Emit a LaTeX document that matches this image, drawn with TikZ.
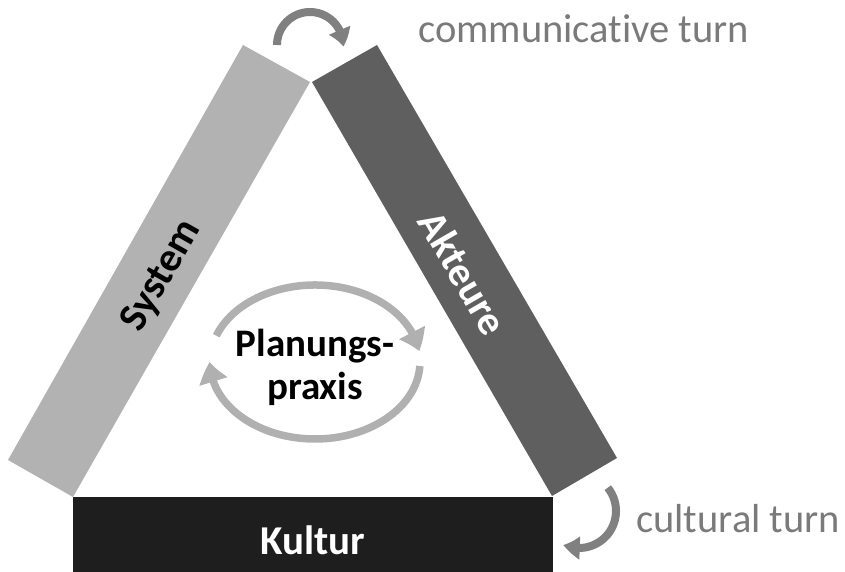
\documentclass[tikz,border=0pt]{standalone}
\usepackage{fontspec}
\setmainfont[Ligatures=NoCommon]{Carlito}
\usetikzlibrary{arrows.meta,bending}
\definecolor{sysgray}{HTML}{B2B2B2}
\definecolor{aktgray}{HTML}{5F5F5F}
\definecolor{kulblack}{HTML}{1E1E1E}
\definecolor{turngray}{HTML}{808080}
\definecolor{textgray}{HTML}{7A7A7A}
\definecolor{cyclegray}{HTML}{B0B0B0}
\tikzset{
  barlabel/.style={font=\fontsize{41}{46}\selectfont\bfseries, inner sep=0pt},
  turnlabel/.style={font=\fontsize{40.5}{46}\selectfont, text=textgray, inner sep=0pt, anchor=base west},
  turnarrow/.style={draw=turngray, line width=8pt, -{Triangle[width=22pt,length=17pt,bend]}},
  cyclearrow/.style={draw=cyclegray, line width=7.5pt, -{Triangle[width=28pt,length=20pt,bend]}},
}
\begin{document}
\begin{tikzpicture}[x=1pt,y=1pt]
\useasboundingbox (0,0) rectangle (845,572);
% bars
\fill[sysgray] (243,527) -- (310,490) -- (73,75) -- (8,112) -- cycle;
\fill[aktgray] (312,490) -- (377,527) -- (617,114) -- (552,76) -- cycle;
\fill[kulblack] (73,0) rectangle (553,75);
% labels on bars
\node[barlabel, text=black, rotate=60.5] (system) at (162,296) {System};
\node[barlabel, text=white, rotate=-60] (akteure) at (463,299) {Akteure};
\node[barlabel, text=white, anchor=base] (kultur) at (313,17) {Kultur};
% center
\node[font=\fontsize{39}{43}\selectfont\bfseries, align=center, inner sep=0pt] (praxis) at (315,205) {Planungs-\\praxis};
\coordinate (cc) at (315,210);
\draw[cyclearrow] ([shift={(160:105pt and 77pt)}]cc) arc[start angle=160, end angle=8, x radius=105pt, y radius=77pt];
\draw[cyclearrow] ([shift={(-3:105pt and 77pt)}]cc) arc[start angle=-3, end angle=-180, x radius=105pt, y radius=77pt];
% turns
\coordinate (tc) at (310,527);
\draw[turnarrow] ([shift={(180:33pt)}]tc) arc[start angle=180, end angle=-3, radius=33pt];
\coordinate (bc) at (579,61);
\draw[turnarrow] ([shift={(39:37pt)}]bc) arc[start angle=39, end angle=-115, radius=37pt];
\node[turnlabel] (comm) at (418,529) {communicative turn};
\node[turnlabel] (cult) at (636,39) {cultural turn};
\end{tikzpicture}
\end{document}
